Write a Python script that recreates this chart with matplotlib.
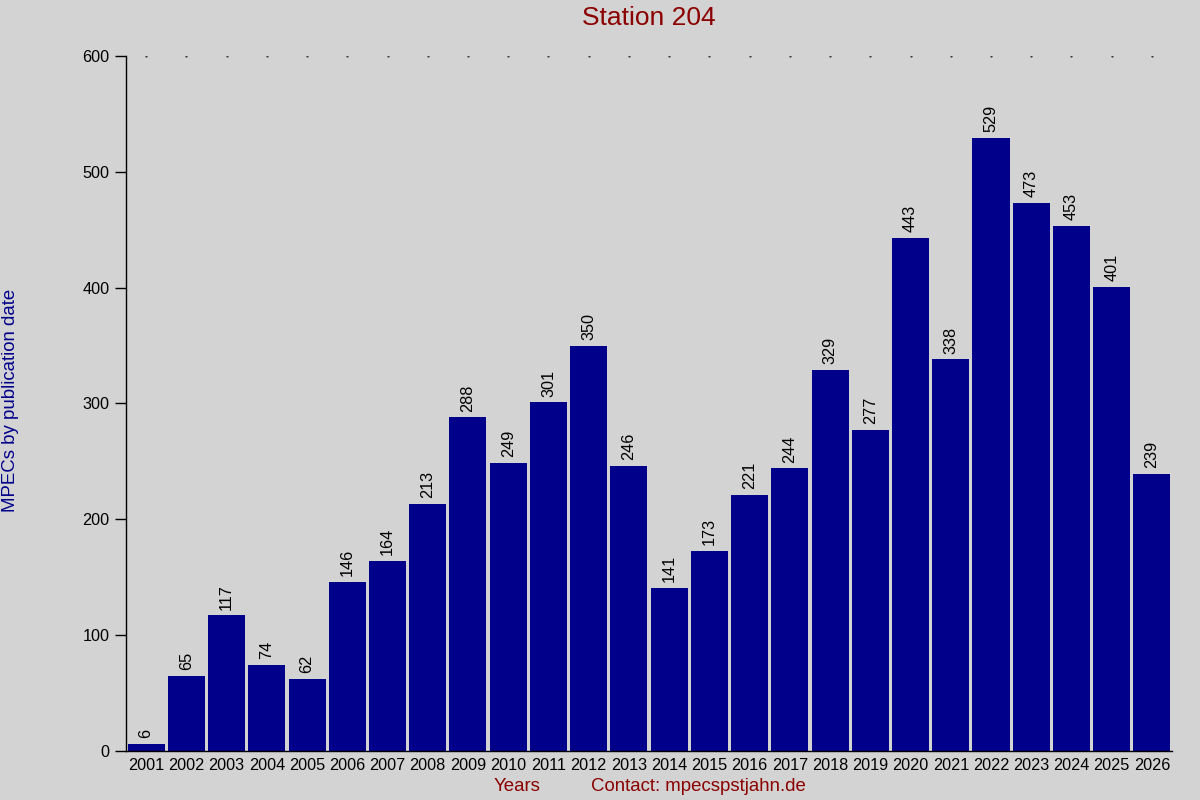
import matplotlib
matplotlib.use('Agg')
import matplotlib.pyplot as plt
import numpy as np

years = [str(y) for y in range(2001, 2027)]
counts = [6, 65, 117, 74, 62, 146, 164, 213, 288, 249, 301, 350, 246,
          141, 173, 221, 244, 329, 277, 443, 338, 529, 473, 453, 401, 239]

plt.rcParams['font.family'] = ['Liberation Sans', 'DejaVu Sans']
bg = '#d3d3d3'

fig = plt.figure(figsize=(12, 8), dpi=100, facecolor=bg)
ax = fig.add_axes([0.105, 0.06125, 0.8717, 0.86875], facecolor=bg)

x = np.arange(len(years))
ax.bar(x, counts, width=0.92, color='#00008b')
for xi, v in zip(x, counts):
    ax.text(xi, v + 5, str(v), rotation=90, ha='center', va='bottom', fontsize=11.7)

# small dots along the top edge
ax.plot(x, [600] * len(x), linestyle='none', marker='.', markersize=1.2, color='#333333')

ax.set_xlim(-0.5, len(years) - 0.5)
ax.set_ylim(0, 600)
ax.set_yticks(range(0, 601, 100))
ax.set_xticks(x)
ax.set_xticklabels(years)
ax.tick_params(axis='x', length=0, pad=5, labelsize=11.7)
ax.tick_params(axis='y', length=8, width=1, direction='out', labelsize=11.7, pad=4)
for s in ['top', 'right']:
    ax.spines[s].set_visible(False)
ax.spines['left'].set_linewidth(1)
ax.spines['bottom'].set_linewidth(1)

fig.text(0.541, 0.977, 'Station 204', color='#8b0000', fontsize=19, ha='center', va='center')
fig.text(0.009, 0.5, 'MPECs by publication date', color='#00008b', fontsize=13.4,
         rotation=90, ha='center', va='center')
fig.text(0.431, 0.017, 'Years', color='#8b0000', fontsize=13.4, ha='center', va='center')
fig.text(0.582, 0.017, 'Contact: mpecspstjahn.de', color='#8b0000', fontsize=13.4, ha='center', va='center')

fig.savefig('out.png', dpi=100, facecolor=bg)
